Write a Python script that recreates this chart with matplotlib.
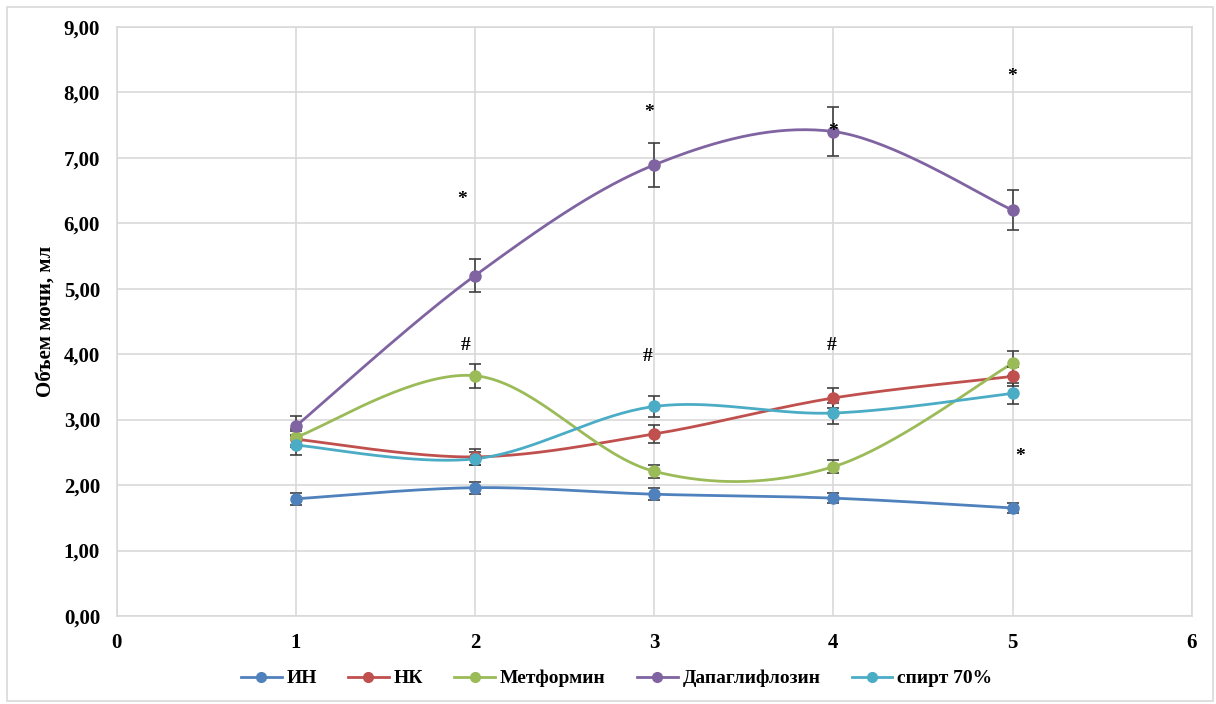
import numpy as np
import matplotlib
matplotlib.use("Agg")
import matplotlib.pyplot as plt
from matplotlib.patches import Rectangle
from matplotlib.ticker import FuncFormatter

plt.rcParams['font.family'] = ['Liberation Serif', 'DejaVu Serif']
plt.rcParams['font.weight'] = 'bold'

days = [1, 2, 3, 4, 5]
series_names = ["ИН", "НК", "Метформин", "Дапаглифлозин", "спирт 70%"]
colors = ["#4F81BD", "#C0504D", "#9BBB59", "#8064A2", "#4BACC6"]

in_vals = [1.79, 1.96, 1.86, 1.80, 1.65]
in_err = [0.09, 0.09, 0.09, 0.08, 0.08]
nk_vals = [2.70, 2.43, 2.78, 3.33, 3.66]
nk_err = [0.12, 0.12, 0.14, 0.16, 0.14]
met_vals = [2.73, 3.67, 2.21, 2.28, 3.86]
met_err = [0.12, 0.18, 0.10, 0.10, 0.19]
dapa_vals = [2.90, 5.20, 6.89, 7.40, 6.20]
dapa_err = [0.15, 0.25, 0.34, 0.37, 0.31]
spirit_vals = [2.61, 2.40, 3.20, 3.10, 3.40]
spirit_err = [0.15, 0.10, 0.16, 0.16, 0.16]

all_vals = [in_vals, nk_vals, met_vals, dapa_vals, spirit_vals]
all_errs = [in_err, nk_err, met_err, dapa_err, spirit_err]

# significance marks: (x, y)
star_marks = [(1.93, 6.36), (2.97, 7.69), (5.0, 8.24), (5.04, 2.44), (4.0, 7.40)]
hash_marks = [(1.95, 4.13), (2.965, 3.97), (3.99, 4.13)]


def smooth(x, y, n=40):
    """Catmull-Rom style Bezier smoothing between consecutive points."""
    x = np.asarray(x, float)
    y = np.asarray(y, float)
    px = np.concatenate([[x[0]], x, [x[-1]]])
    py = np.concatenate([[y[0]], y, [y[-1]]])
    xs, ys = [], []
    t = np.linspace(0, 1, n)
    for i in range(1, len(px) - 2):
        p0 = np.array([px[i], py[i]])
        p3 = np.array([px[i + 1], py[i + 1]])
        c1 = p0 + (np.array([px[i + 1], py[i + 1]]) - np.array([px[i - 1], py[i - 1]])) / 6
        c2 = p3 - (np.array([px[i + 2], py[i + 2]]) - np.array([px[i], py[i]])) / 6
        b = ((1 - t) ** 3)[:, None] * p0 + (3 * (1 - t) ** 2 * t)[:, None] * c1 \
            + (3 * (1 - t) * t ** 2)[:, None] * c2 + (t ** 3)[:, None] * p3
        xs.append(b[:, 0])
        ys.append(b[:, 1])
    return np.concatenate(xs), np.concatenate(ys)


fig = plt.figure(figsize=(12.16, 7.04), dpi=100)
fig.patches.append(Rectangle((7 / 1216, 3 / 704), 1206 / 1216, 694 / 704,
                             transform=fig.transFigure, fill=False,
                             edgecolor="#D9D9D9", lw=1.2))
ax = fig.add_axes([0.096, 0.125, 0.884, 0.837])

ax.set_xlim(0, 6)
ax.set_ylim(0, 9)
ax.set_xticks(range(0, 7))
ax.set_yticks(range(0, 10))
ax.yaxis.set_major_formatter(FuncFormatter(lambda v, p: f"{v:.2f}".replace(".", ",")))
ax.grid(True, color="#D9D9D9", lw=1.2)
ax.set_axisbelow(True)
for s in ax.spines.values():
    s.set_color("#D9D9D9")
    s.set_linewidth(1.2)
ax.tick_params(length=0, labelsize=15)
ax.tick_params(axis="y", pad=12)
ax.tick_params(axis="x", pad=12)
for lab in ax.get_xticklabels() + ax.get_yticklabels():
    lab.set_fontweight("bold")
ax.set_ylabel("Объем мочи, мл", fontsize=15, fontweight="bold")
ax.yaxis.set_label_coords(-0.057, 0.5)

handles = []
for name, col, vals, errs in zip(series_names, colors, all_vals, all_errs):
    sx, sy = smooth(days, vals)
    ax.plot(sx, sy, color=col, lw=2.0, zorder=3, solid_capstyle="round")
    ax.errorbar(days, vals, yerr=errs, fmt="none", ecolor="#404040",
                elinewidth=1.2, capsize=4, capthick=1.2, zorder=4)
    ax.plot(days, vals, "o", color=col, ms=8, zorder=5)
    h, = ax.plot([], [], "-o", color=col, lw=2.0, ms=7, label=name)
    handles.append(h)

for x, y in star_marks:
    ax.text(x, y, "*", ha="center", va="center", fontsize=14, color="black", zorder=6)
for x, y in hash_marks:
    ax.text(x, y, "#", ha="center", va="center", fontsize=14, color="black", zorder=6)

leg = fig.legend(handles=handles, loc="center", bbox_to_anchor=(0.507, 0.036), ncol=5,
                 frameon=False, handlelength=2.1, columnspacing=1.6,
                 handletextpad=0.25, prop={"weight": "bold", "size": 14})

fig.savefig("out.png", dpi=100)
